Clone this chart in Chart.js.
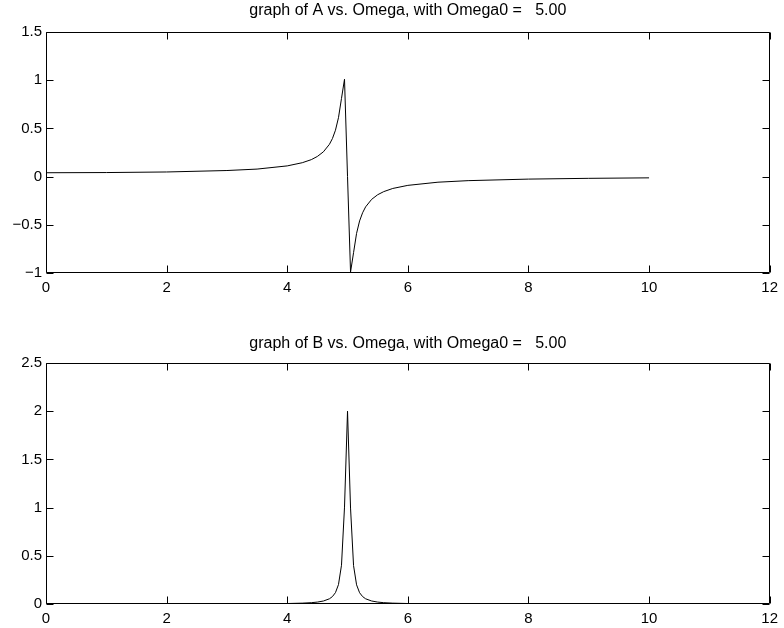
<!DOCTYPE html>
<html>
<head>
<meta charset="utf-8">
<script src="https://cdn.jsdelivr.net/npm/chart.js@4.4.1/dist/chart.umd.min.js"></script>
<style>
  body { margin: 0; background: #fff; }
  .wrap { position: absolute; left: 0; width: 784px; height: 310px; }
  #top { top: 0; }
  #bottom { top: 318px; }
</style>
</head>
<body>
<div class="wrap" id="top"><canvas id="chartA" width="784" height="310"></canvas></div>
<div class="wrap" id="bottom"><canvas id="chartB" width="784" height="310"></canvas></div>
<script>
// omega samples (denser near the resonance at 5)
const omega = [0, 1, 2, 3, 3.5, 4, 4.25, 4.4, 4.5, 4.6, 4.7, 4.75, 4.8, 4.85, 4.9, 4.95,
  5, 5.05, 5.1, 5.15, 5.2, 5.25, 5.3, 5.4, 5.5, 5.6, 5.75, 6, 6.5, 7, 8, 9, 10];

// A values
const aValues = [0.040, 0.042, 0.048, 0.063, 0.078, 0.111, 0.144, 0.176, 0.209, 0.257, 0.335, 0.395,
  0.481, 0.611, 0.811, 1.010, 0, -0.990, -0.789, -0.589, -0.460, -0.375, -0.314, -0.236,
  -0.188, -0.156, -0.123, -0.091, -0.058, -0.042, -0.026, -0.018, -0.013];

// B values
const bValues = [0, 0.0002, 0.0005, 0.0012, 0.0022, 0.0049, 0.0088, 0.0137, 0.0198, 0.0308, 0.0541, 0.077,
  0.118, 0.201, 0.402, 1.005, 2.0, 0.995, 0.398, 0.199, 0.117, 0.077, 0.054, 0.031,
  0.020, 0.0137, 0.0088, 0.0049, 0.0022, 0.0012, 0.0005, 0.0003, 0.0002];

const xTicks = [0, 2, 4, 6, 8, 10, 12];
const titleA = 'graph of A vs. Omega, with Omega0 =   5.00';
const titleB = 'graph of B vs. Omega, with Omega0 =   5.00';

const FONT = 'Liberation Sans, Arial, Helvetica, sans-serif';

// matlab-like box with inward ticks on all four sides
const boxTicks = {
  id: 'boxTicks',
  afterDraw(chart) {
    const ctx = chart.ctx;
    const { left, right, top, bottom } = chart.chartArea;
    const len = 7;
    const L = Math.round(left) + 0.5, R = Math.round(right) - 0.5;
    const T = Math.round(top) + 0.5, B = Math.round(bottom) - 0.5;
    ctx.save();
    ctx.strokeStyle = '#000';
    ctx.lineWidth = 1;
    ctx.beginPath();
    ctx.rect(L, T, R - L, B - T);
    chart.scales.x.ticks.forEach(t => {
      const px = Math.round(chart.scales.x.getPixelForValue(t.value)) + 0.5;
      ctx.moveTo(px, B); ctx.lineTo(px, B - len);
      ctx.moveTo(px, T); ctx.lineTo(px, T + len);
    });
    chart.scales.y.ticks.forEach(t => {
      const py = Math.round(chart.scales.y.getPixelForValue(t.value)) + 0.5;
      ctx.moveTo(L, py); ctx.lineTo(L + len, py);
      ctx.moveTo(R, py); ctx.lineTo(R - len, py);
    });
    ctx.stroke();
    ctx.restore();
  }
};

function minus(v) {
  return v < 0 ? '\u2212' + Math.abs(v) : String(v);
}

function makeChart(id, values, yMin, yMax, title, titlePad, xHeight) {
  return new Chart(document.getElementById(id), {
    type: 'line',
    data: {
      datasets: [{
        data: omega.map((w, i) => ({ x: w, y: values[i] })),
        borderColor: '#000',
        borderWidth: 1,
        pointRadius: 0,
        tension: 0,
        fill: false
      }]
    },
    options: {
      responsive: false,
      animation: false,
      devicePixelRatio: 1,
      layout: { padding: { left: 0, right: 11, top: 0, bottom: 0 } },
      plugins: {
        legend: { display: false },
        tooltip: { enabled: false },
        title: {
          display: true,
          fullSize: false,
          text: title,
          color: '#000',
          font: { family: FONT, size: 16, weight: 'normal', lineHeight: 1 },
          padding: titlePad
        }
      },
      scales: {
        x: {
          type: 'linear',
          min: 0,
          max: 12,
          afterBuildTicks: s => { s.ticks = xTicks.map(v => ({ value: v })); },
          afterFit: s => { s.height = xHeight; },
          grid: { display: false, drawTicks: false },
          border: { display: false },
          ticks: {
            color: '#000',
            padding: 6,
            maxRotation: 0,
            font: { family: FONT, size: 15 }
          }
        },
        y: {
          type: 'linear',
          min: yMin,
          max: yMax,
          afterFit: s => { s.width = 46; },
          grid: { display: false, drawTicks: false },
          border: { display: false },
          ticks: {
            stepSize: 0.5,
            color: '#000',
            padding: 4,
            font: { family: FONT, size: 15 },
            callback: v => minus(v)
          }
        }
      }
    },
    plugins: [boxTicks]
  });
}

makeChart('chartA', aValues, -1, 1.5, titleA, { top: 3, bottom: 13 }, 37);
makeChart('chartB', bValues, 0, 2.5, titleB, { top: 18, bottom: 11 }, 24);
</script>
</body>
</html>
